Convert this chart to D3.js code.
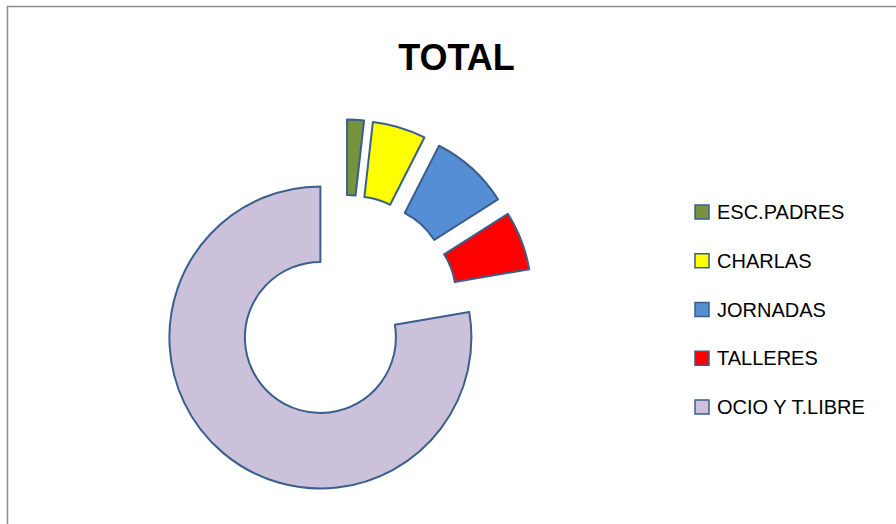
<!DOCTYPE html>
<html>
<head>
<meta charset="utf-8">
<script src="https://cdn.jsdelivr.net/npm/d3@7"></script>
<style>
  html, body { margin: 0; padding: 0; background: #fff; }
  svg { display: block; }
</style>
</head>
<body>
<svg id="chart" width="896" height="524"></svg>
<script>
const categories = ["ESC.PADRES", "CHARLAS", "JORNADAS", "TALLERES", "OCIO Y T.LIBRE"];
const values = [1.8, 5.7, 8.5, 6.3, 77.7];
const colors = ["#77933c", "#ffff00", "#558ed5", "#ff0000", "#ccc1da"];
const title = "TOTAL";

const svg = d3.select("#chart");
const W = 896, H = 524;

// outer frame
svg.append("rect")
  .attr("x", 7.5).attr("y", 6.5)
  .attr("width", W).attr("height", H)
  .attr("fill", "#fff")
  .attr("stroke", "#8c8c8c")
  .attr("stroke-width", 1.5);

// title
svg.append("text")
  .attr("x", 456.5).attr("y", 69.5)
  .attr("text-anchor", "middle")
  .attr("font-family", "'Liberation Sans', Arial, sans-serif")
  .attr("font-weight", "bold")
  .attr("font-size", 36)
  .attr("fill", "#000")
  .text(title);

// doughnut
const cx = 344.9, cy = 308.4;
const outerR = 151, innerR = 75.5, explode = 38;

const data = categories.map((c, i) => ({ name: c, value: values[i], color: colors[i] }));
const pie = d3.pie().sort(null).value(d => d.value).startAngle(0).endAngle(2 * Math.PI);
const arc = d3.arc().innerRadius(innerR).outerRadius(outerR);

const g = svg.append("g").attr("transform", `translate(${cx},${cy})`);
g.selectAll("path")
  .data(pie(data))
  .join("path")
  .attr("transform", d => {
    const mid = (d.startAngle + d.endAngle) / 2;
    return `translate(${explode * Math.sin(mid)},${-explode * Math.cos(mid)})`;
  })
  .attr("d", arc)
  .attr("fill", d => d.data.color)
  .attr("stroke", "#3a5f8c")
  .attr("stroke-width", 2)
  .attr("stroke-linejoin", "round");

// legend
const legend = svg.append("g");
const rowY = d3.scalePoint().domain(categories).range([219, 414]);
const items = legend.selectAll("g").data(data).join("g")
  .attr("transform", d => `translate(0,${rowY(d.name)})`);
items.append("rect")
  .attr("x", 695).attr("y", -14)
  .attr("width", 14).attr("height", 14)
  .attr("fill", d => d.color)
  .attr("stroke", "#3a5f8c")
  .attr("stroke-width", 1.5);
items.append("text")
  .attr("x", 717).attr("y", 0)
  .attr("font-family", "'Liberation Sans', Arial, sans-serif")
  .attr("font-size", 20)
  .attr("fill", "#000")
  .text(d => d.name);
</script>
</body>
</html>
